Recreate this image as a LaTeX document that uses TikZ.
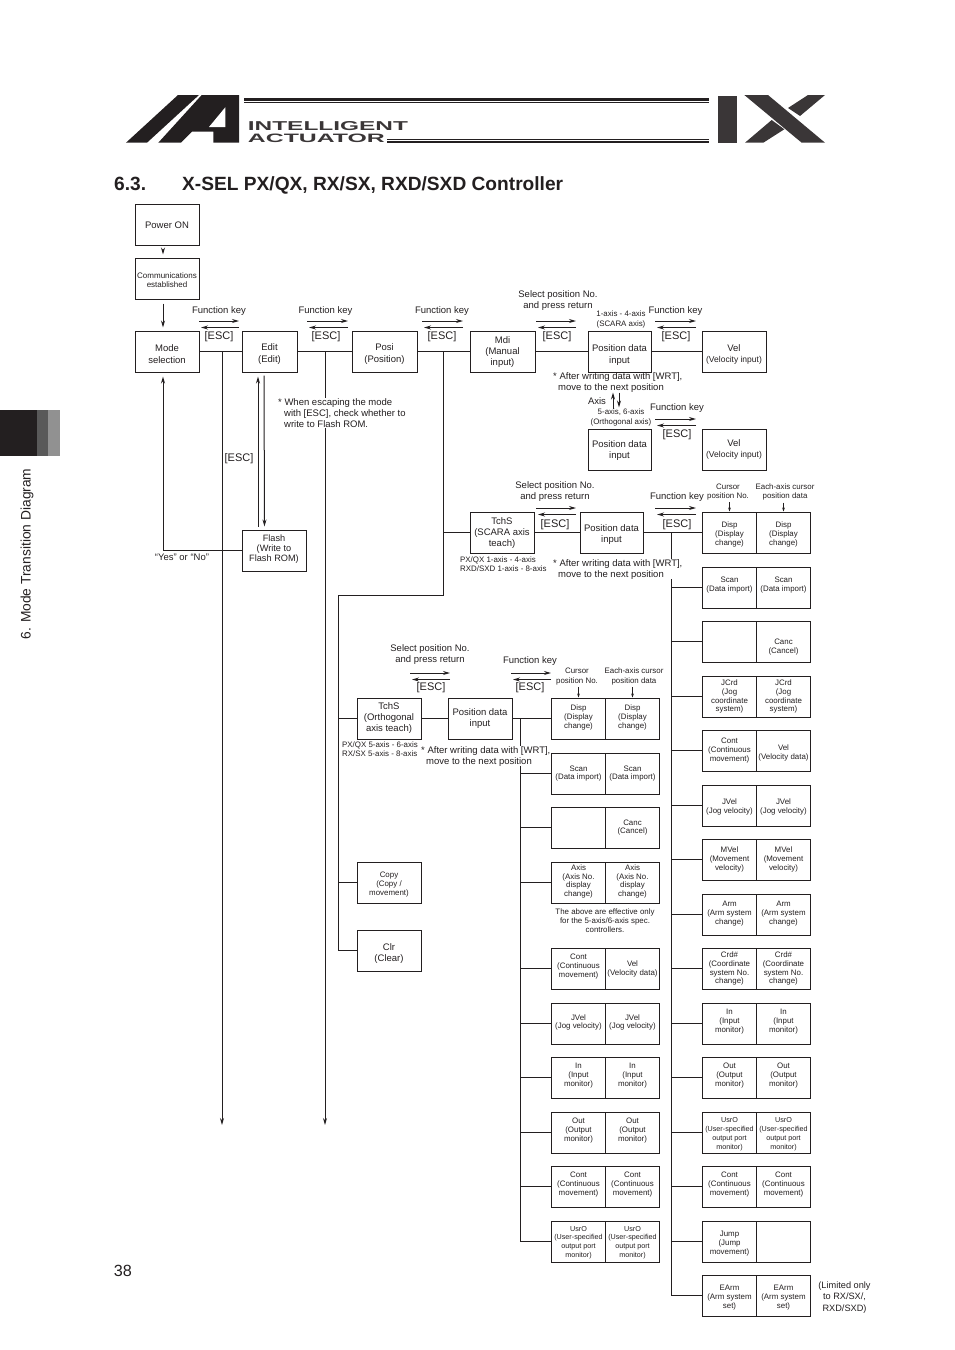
\documentclass[tikz,border=0pt]{standalone}
\usepackage{graphicx}
\usepackage{fontspec}
\setmainfont{Liberation Sans}
\usetikzlibrary{arrows.meta}
\definecolor{ink}{HTML}{231F20}
\definecolor{logoink}{HTML}{3A3637}
\newcommand{\bigtxt}{\fontsize{9.5}{11}\selectfont}
\newcommand{\widetxt}{\fontsize{9.5}{11.8}\selectfont}
\newcommand{\midtxt}{\fontsize{8.5}{9.5}\selectfont}
\newcommand{\smalltxt}{\fontsize{7.9}{8.9}\selectfont}
\newcommand{\tinytxt}{\fontsize{7.2}{8.9}\selectfont}
% pair of arrows for a key: name, left x, right x, y
\newcommand{\keyarrows}[4]{%
  \coordinate (#1ul) at (#2,#4);
  \coordinate (#1ur) at (#3,#4);
  \coordinate (#1ll) at (#2+2,#4+6.5);
  \coordinate (#1lr) at (#3,#4+6.5);
  \draw[arr] (#1ul) -- (#1ur);
  \draw[arr] (#1lr) -- (#1ll);
}
\tikzset{
  line/.style={line width=1pt,draw=ink},
  arr/.style={line width=1pt,draw=ink,-{Stealth[length=7pt,width=4pt]}},
  tinyarr/.style={line width=.8pt,draw=ink,-{Stealth[length=4pt,width=2.8pt]}},
  mbox/.style={draw=ink,line width=1pt,minimum width=64pt,minimum height=41pt,inner sep=0pt,align=center,text=ink,font=\bigtxt},
  pbox/.style={draw=ink,line width=1pt,minimum width=54pt,minimum height=41pt,inner sep=0pt,align=center,text=ink,font=\smalltxt},
  ubox/.style={pbox,font=\tinytxt},
  tdown/.style={execute at begin node={\rule{0pt}{#1}}},
  tup/.style={execute at end node={\rule[-#1]{0pt}{0pt}}},
  lab/.style={inner sep=0pt,yshift=-1pt,align=center,text=ink,font=\bigtxt},
  esclab/.style={lab,font=\fontsize{11}{12}\selectfont},
  slab/.style={inner sep=0pt,yshift=-1pt,align=center,text=ink,font=\fontsize{7.9}{9.3}\selectfont},
  note/.style={inner sep=0pt,yshift=-1pt,align=left,anchor=north west,text=ink,fill=white,font=\fontsize{9.5}{11.3}\selectfont},
  snote/.style={inner sep=0pt,yshift=-1pt,align=left,anchor=north west,text=ink,font=\fontsize{7.9}{9.2}\selectfont},
}
\begin{document}
\begin{tikzpicture}[x=1pt,y=-1pt]
  \useasboundingbox (0,0) rectangle (954,1350);

  % logo
  \fill[ink] (126,142.7) -- (178,95) -- (199,95) -- (147,142.7) -- cycle;
  \fill[ink] (201.7,95) -- (239,95) -- (239,142.7) -- (213.3,142.7) -- (213.3,131.7) -- (192,131.7) -- (181,142.7) -- (158.3,142.7) -- cycle;
  \fill[white] (225.3,107.3) -- (225.3,127) -- (209,127) -- cycle;
  \fill[ink] (244,98.3) rectangle (709,100.6);
  \fill[ink] (244,101.7) rectangle (709,102.7);
  \fill[ink] (387,139) rectangle (709,140);
  \fill[ink] (387,141.2) rectangle (709,143);
  \node[inner sep=0pt,anchor=south west,text=logoink] (logoa) at (247.7,131) {\resizebox{160pt}{9pt}{\bfseries INTELLIGENT}};
  \node[inner sep=0pt,anchor=south west,text=logoink] (logob) at (247.7,143) {\resizebox{137pt}{8.5pt}{\bfseries ACTUATOR}};
  \fill[logoink] (718.3,95.7) rectangle (737.3,142.7);
  \fill[logoink] (744.3,95) -- (768,95) -- (825,142.7) -- (801.7,142.7) -- cycle;
  \fill[logoink] (825,95) -- (808,95) -- (788,108) -- (800,116) -- cycle;
  \fill[logoink] (745,142.7) -- (771.7,120) -- (784.3,129.3) -- (763.3,142.7) -- cycle;

  % side tab
  \fill[ink] (0,410) rectangle (37,456);
  \fill[black!65!white] (37,410) rectangle (48,456);
  \fill[black!43!white] (48,410) rectangle (60,456);
  \node[rotate=90,inner sep=0pt,text=ink,font=\fontsize{13.8}{16}\selectfont] (sidelab) at (27,554) {6. Mode Transition Diagram};
  \node[inner sep=0pt,text=ink,font=\fontsize{16.2}{18}\selectfont] (pageno) at (123,1271) {38};

  % title
  \node[inner sep=0pt,anchor=base west,text=ink,font=\fontsize{19.15}{21}\selectfont\bfseries] (titlea) at (114,190) {6.3.};
  \node[inner sep=0pt,anchor=base west,text=ink,font=\fontsize{19.15}{21}\selectfont\bfseries] (titleb) at (182,190) {X-SEL PX/QX, RX/SX, RXD/SXD Controller};

  % top row
  \node[mbox] (power) at (167,225) {Power ON};
  \node[mbox,font=\fontsize{8}{9.5}\selectfont,tdown=18.3pt] (comm) at (167,278.5) {Communications\\established};
  \node[mbox,font=\widetxt,tdown=23.7pt] (modesel) at (167,351.5) {Mode\\selection};
  \node[mbox,minimum width=55pt,font=\widetxt,tdown=23.7pt] (editm) at (269.5,351.5) {Edit\\(Edit)};
  \node[mbox,minimum width=65pt,font=\widetxt,tdown=23.7pt] (posi) at (384.5,351.5) {Posi\\(Position)};
  \node[mbox,minimum width=65pt,tdown=30.9pt] (mdi) at (502.5,351.5) {Mdi\\(Manual\\input)};
  \node[mbox,minimum width=63pt,font=\widetxt,tdown=25.7pt] (pda) at (619.5,351.5) {Position data\\input};
  \node[mbox,tdown=23.4pt] (vela) at (734,351.5) {Vel\\{\midtxt (Velocity input)}};
  \node[mbox,minimum width=63pt,font=\widetxt,tdown=20.7pt] (pdb) at (619.5,449.5) {Position data\\input};
  \node[mbox,tdown=18.4pt] (velb) at (734,449.5) {Vel\\{\midtxt (Velocity input)}};
  \node[mbox,font=\fontsize{9.2}{10.2}\selectfont,tup=5pt] (flash) at (274,550.5) {Flash\\(Write to\\Flash ROM)};

  \draw[arr,shorten <=4pt,shorten >=3pt] ([xshift=-4pt]power.south) -- ([xshift=-4pt]comm.north);
  \draw[arr,shorten <=4pt,shorten >=3pt] ([xshift=-4pt]comm.south) -- ([xshift=-4pt]modesel.north);
  \draw[line] (modesel.east) -- (editm.west);
  \draw[line] (editm.east) -- (posi.west);
  \draw[line] (posi.east) -- (mdi.west);
  \draw[line] (mdi.east) -- (pda.west);
  \draw[line] (pda.east) -- (vela.west);
  \draw[arr,shorten >=4pt] (flash.west) -| ([xshift=-4pt]modesel.south);
  \draw[arr,shorten <=3pt,shorten >=4pt] ([xshift=-16pt]flash.north) -- ([xshift=-11.5pt]editm.south);
  \draw[arr,shorten <=3pt,shorten >=3pt] ([xshift=-5.5pt]editm.south) -- ([xshift=-9.5pt]flash.north);
  \draw[arr,shorten <=20pt,shorten >=20pt] ([xshift=-6.5pt]pdb.north) -- ([xshift=-6.5pt]pda.south);
  \draw[arr,shorten <=20pt,shorten >=21pt] ([xshift=-.5pt]pda.south) -- ([xshift=-.5pt]pdb.north);

  % long lines going down
  \coordinate (esca) at (222,351.5);
  \coordinate (escaend) at (222,1125);
  \coordinate (escb) at (325,351.5);
  \coordinate (escbend) at (325,1125);
  \coordinate (escc) at (443,351.5);
  \coordinate (esccend) at (443,595.5);
  \coordinate (trunk) at (338,595.5);
  \draw[arr] (esca) -- (escaend);
  \draw[arr] (escb) -- (escbend);
  \draw[line] (escc) -- (esccend) -- (trunk);

  \keyarrows{ka}{199}{239}{321}
  \keyarrows{kb}{307}{348}{321}
  \keyarrows{kc}{422}{463}{321}
  \keyarrows{kd}{536}{576}{321}
  \keyarrows{ke}{655}{696}{321}
  \keyarrows{kf}{655}{696}{419}
  \keyarrows{kg}{536}{576}{508}
  \keyarrows{kh}{655}{696}{508}
  \keyarrows{ki}{410}{450}{673}
  \keyarrows{kj}{511}{551}{673}

  \node[lab] (fka) at (219,310) {Function key};
  \node[lab] (fkb) at (325.5,310) {Function key};
  \node[lab] (fkc) at (442,310) {Function key};
  \node[lab] (selb) at (558,300) {Select position No.\\and press return};
  \node[lab] (fke) at (675.5,310) {Function key};
  \node[lab] (fkf) at (677,407) {Function key};
  \node[esclab] (escla) at (219,336) {[ESC]};
  \node[esclab] (esclb) at (326,336) {[ESC]};
  \node[esclab] (esclc) at (442,336) {[ESC]};
  \node[esclab] (escld) at (557,336) {[ESC]};
  \node[esclab] (escle) at (676,336) {[ESC]};
  \node[esclab] (esclf) at (677,434) {[ESC]};
  \node[esclab] (esclg) at (239,458) {[ESC]};
  \node[slab] (scara) at (621,318.5) {1-axis - 4-axis\\(SCARA axis)};
  \node[slab] (ortho) at (621,416.5) {5-axis, 6-axis\\(Orthogonal axis)};
  \node[lab] (axis) at (597,400.5) {Axis};
  \node[lab,font=\fontsize{9.5}{10}\selectfont] (yesno) at (182,556.5) {“Yes” or “No”};

  % SCARA teach row
  \node[mbox,tdown=30.9pt] (tcha) at (502,532.5) {TchS\\(SCARA axis\\teach)};
  \node[mbox,minimum width=63pt,tdown=21.9pt] (pdc) at (611.5,532.5) {Position data\\input};
  \coordinate (busr) at (671,532.5);
  \coordinate (tee) at (443,532.5);
  \draw[line] (tee) -- (tcha.west);
  \draw[line] (tcha.east) -- (pdc.west);
  \node[lab] (selc) at (555,490.5) {Select position No.\\and press return};
  \node[lab] (fkh) at (677,496.5) {Function key};
  \node[esclab] (esclh) at (555,524) {[ESC]};
  \node[esclab] (escli) at (677,524) {[ESC]};
  \node[slab] (curr) at (728,491) {Cursor\\position No.};
  \node[slab] (eachr) at (785,491) {Each-axis cursor\\position data};
  \node[snote] (pxa) at (460,555.5) {PX/QX 1-axis - 4-axis\\RXD/SXD 1-axis - 8-axis};

  % right column
  \node[pbox,tdown=27.6pt] (rdispa) at (729.5,532.5) {Disp\\(Display\\change)};
  \node[pbox,tdown=27.6pt] (rdispb) at (783.5,532.5) {Disp\\(Display\\change)};
  \node[pbox,tup=5.7pt] (rscana) at (729.5,587.5) {Scan\\(Data import)};
  \node[pbox,tup=5.7pt] (rscanb) at (783.5,587.5) {Scan\\(Data import)};
  \node[pbox] (rcanca) at (729.5,641.5) {};
  \node[pbox,tdown=24.7pt] (rcancb) at (783.5,641.5) {Canc\\(Cancel)};
  \node[pbox] (rjcrda) at (729.5,696.5) {JCrd\\(Jog\\coordinate\\system)};
  \node[pbox] (rjcrdb) at (783.5,696.5) {JCrd\\(Jog\\coordinate\\system)};
  \node[pbox] (rconta) at (729.5,750.5) {Cont\\(Continuous\\movement)};
  \node[pbox,tdown=18.7pt] (rcontb) at (783.5,750.5) {Vel\\(Velocity data)};
  \node[pbox,tdown=16.7pt] (rjvela) at (729.5,805.5) {JVel\\(Jog velocity)};
  \node[pbox,tdown=16.7pt] (rjvelb) at (783.5,805.5) {JVel\\(Jog velocity)};
  \node[pbox] (rmvela) at (729.5,859.5) {MVel\\(Movement\\velocity)};
  \node[pbox] (rmvelb) at (783.5,859.5) {MVel\\(Movement\\velocity)};
  \node[pbox,tup=3.7pt] (rarma) at (729.5,914.5) {Arm\\(Arm system\\change)};
  \node[pbox,tup=3.7pt] (rarmb) at (783.5,914.5) {Arm\\(Arm system\\change)};
  \node[pbox] (rcrda) at (729.5,968.5) {Crd\#\\(Coordinate\\system No.\\change)};
  \node[pbox] (rcrdb) at (783.5,968.5) {Crd\#\\(Coordinate\\system No.\\change)};
  \node[pbox,tup=5.7pt] (rina) at (729.5,1023.5) {In\\(Input\\monitor)};
  \node[pbox,tup=5.7pt] (rinb) at (783.5,1023.5) {In\\(Input\\monitor)};
  \node[pbox,tup=5.7pt] (routa) at (729.5,1077.5) {Out\\(Output\\monitor)};
  \node[pbox,tup=5.7pt] (routb) at (783.5,1077.5) {Out\\(Output\\monitor)};
  \node[ubox,tdown=35pt] (rusra) at (729.5,1132.5) {UsrO\\(User-specified\\output port\\monitor)};
  \node[ubox,tdown=35pt] (rusrb) at (783.5,1132.5) {UsrO\\(User-specified\\output port\\monitor)};
  \node[pbox,tup=5.7pt] (rcntca) at (729.5,1186.5) {Cont\\(Continuous\\movement)};
  \node[pbox,tup=5.7pt] (rcntcb) at (783.5,1186.5) {Cont\\(Continuous\\movement)};
  \node[pbox,tdown=27.6pt] (rjumpa) at (729.5,1241.5) {Jump\\(Jump\\movement)};
  \node[pbox] (rjumpb) at (783.5,1241.5) {};
  \node[pbox,tdown=27.6pt] (rearma) at (729.5,1295.5) {EArm\\(Arm system\\set)};
  \node[pbox,tdown=27.6pt] (rearmb) at (783.5,1295.5) {EArm\\(Arm system\\set)};
  \node[lab,font=\fontsize{9.2}{11.5}\selectfont] (limit) at (844.5,1296.5) {(Limited only\\to RX/SX/,\\RXD/SXD)};

  \draw[line] (pdc.east) -- (rdispa.west);
  \draw[line] (busr) -- (busr |- rearma.west);
  \draw[line] (busr |- rscana.west) -- (rscana.west);
  \draw[line] (busr |- rcanca.west) -- (rcanca.west);
  \draw[line] (busr |- rjcrda.west) -- (rjcrda.west);
  \draw[line] (busr |- rconta.west) -- (rconta.west);
  \draw[line] (busr |- rjvela.west) -- (rjvela.west);
  \draw[line] (busr |- rmvela.west) -- (rmvela.west);
  \draw[line] (busr |- rarma.west) -- (rarma.west);
  \draw[line] (busr |- rcrda.west) -- (rcrda.west);
  \draw[line] (busr |- rina.west) -- (rina.west);
  \draw[line] (busr |- routa.west) -- (routa.west);
  \draw[line] (busr |- rusra.west) -- (rusra.west);
  \draw[line] (busr |- rcntca.west) -- (rcntca.west);
  \draw[line] (busr |- rjumpa.west) -- (rjumpa.west);
  \draw[line] (busr |- rearma.west) -- (rearma.west);
  \draw[tinyarr,shorten <=2pt] (rdispa.north |- curr.south) -- (rdispa.north);
  \draw[tinyarr,shorten <=2pt] (rdispb.north |- eachr.south) -- (rdispb.north);

  % orthogonal teach row
  \node[mbox] (tchb) at (389,718.5) {TchS\\(Orthogonal\\axis teach)};
  \node[mbox] (pdd) at (480,718.5) {Position data\\input};
  \node[mbox,font=\smalltxt,tdown=27.6pt] (copym) at (389,882.5) {Copy\\(Copy /\\movement)};
  \node[mbox,tdown=23.9pt] (clr) at (389,950.5) {Clr\\(Clear)};
  \coordinate (busm) at (520,718.5);
  \draw[line] (trunk) -- (trunk |- clr.west) -- (clr.west);
  \draw[line] (trunk |- tchb.west) -- (tchb.west);
  \draw[line] (trunk |- copym.west) -- (copym.west);
  \draw[line] (tchb.east) -- (pdd.west);
  \node[lab] (seld) at (430,653.5) {Select position No.\\and press return};
  \node[lab] (fkj) at (530,660) {Function key};
  \node[esclab] (esclj) at (431,687) {[ESC]};
  \node[esclab] (esclk) at (530,687) {[ESC]};
  \node[slab] (curm) at (577,675.5) {Cursor\\position No.};
  \node[slab] (eachm) at (634,675.5) {Each-axis cursor\\position data};
  \node[snote] (pxb) at (342,740.5) {PX/QX 5-axis - 6-axis\\RX/SX 5-axis - 8-axis};
  \node[slab] (above) at (605,919.5) {The above are effective only\\for the 5-axis/6-axis spec.\\controllers.};

  % middle column
  \node[pbox,tup=3.7pt] (mdispa) at (578.5,718.5) {Disp\\(Display\\change)};
  \node[pbox,tup=3.7pt] (mdispb) at (632.5,718.5) {Disp\\(Display\\change)};
  \node[pbox] (mscana) at (578.5,773.5) {Scan\\(Data import)};
  \node[pbox] (mscanb) at (632.5,773.5) {Scan\\(Data import)};
  \node[pbox] (mcanca) at (578.5,827.5) {};
  \node[pbox] (mcancb) at (632.5,827.5) {Canc\\(Cancel)};
  \node[pbox,tup=3.7pt] (maxisa) at (578.5,882.5) {Axis\\(Axis No.\\display\\change)};
  \node[pbox,tup=3.7pt] (maxisb) at (632.5,882.5) {Axis\\(Axis No.\\display\\change)};
  \node[pbox,tup=5.7pt] (mconta) at (578.5,968.5) {Cont\\(Continuous\\movement)};
  \node[pbox] (mcontb) at (632.5,968.5) {Vel\\(Velocity data)};
  \node[pbox,tup=3.7pt] (mjvela) at (578.5,1023.5) {JVel\\(Jog velocity)};
  \node[pbox,tup=3.7pt] (mjvelb) at (632.5,1023.5) {JVel\\(Jog velocity)};
  \node[pbox,tup=5.7pt] (mina) at (578.5,1077.5) {In\\(Input\\monitor)};
  \node[pbox,tup=5.7pt] (minb) at (632.5,1077.5) {In\\(Input\\monitor)};
  \node[pbox,tup=5.7pt] (mouta) at (578.5,1132.5) {Out\\(Output\\monitor)};
  \node[pbox,tup=5.7pt] (moutb) at (632.5,1132.5) {Out\\(Output\\monitor)};
  \node[pbox,tup=5.7pt] (mcntca) at (578.5,1186.5) {Cont\\(Continuous\\movement)};
  \node[pbox,tup=5.7pt] (mcntcb) at (632.5,1186.5) {Cont\\(Continuous\\movement)};
  \node[ubox,tdown=34pt] (musra) at (578.5,1241.5) {UsrO\\(User-specified\\output port\\monitor)};
  \node[ubox,tdown=34pt] (musrb) at (632.5,1241.5) {UsrO\\(User-specified\\output port\\monitor)};

  \draw[line] (pdd.east) -- (mdispa.west);
  \draw[line] (busm) -- (busm |- musra.west);
  \draw[line] (busm |- mscana.west) -- (mscana.west);
  \draw[line] (busm |- mcanca.west) -- (mcanca.west);
  \draw[line] (busm |- maxisa.west) -- (maxisa.west);
  \draw[line] (busm |- mconta.west) -- (mconta.west);
  \draw[line] (busm |- mjvela.west) -- (mjvela.west);
  \draw[line] (busm |- mina.west) -- (mina.west);
  \draw[line] (busm |- mouta.west) -- (mouta.west);
  \draw[line] (busm |- mcntca.west) -- (mcntca.west);
  \draw[line] (busm |- musra.west) -- (musra.west);
  \draw[tinyarr,shorten <=2pt] (mdispa.north |- curm.south) -- (mdispa.north);
  \draw[tinyarr,shorten <=2pt] (mdispb.north |- eachm.south) -- (mdispb.north);

  % notes over the lines
  \node[note] (escnote) at (278,397) {* When escaping the mode\\\hspace*{6pt}with [ESC], check whether to\\\hspace*{6pt}write to Flash ROM.};
  \node[note,fill=none] (wrta) at (553,371) {* After writing data with [WRT],\\\hspace*{5pt}move to the next position};
  \node[note] (wrtb) at (553,558) {* After writing data with [WRT],\\\hspace*{5pt}move to the next position};
  \node[note] (wrtc) at (421,745) {* After writing data with [WRT],\\\hspace*{5pt}move to the next position};
\end{tikzpicture}
\end{document}
